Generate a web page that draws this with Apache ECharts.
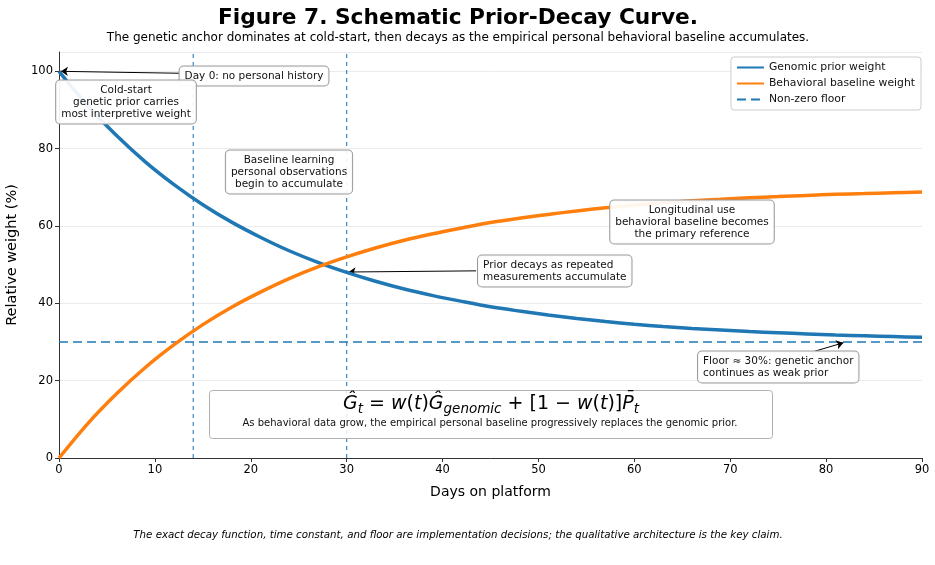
<!DOCTYPE html>
<html><head><meta charset="utf-8">
<script src="https://cdn.jsdelivr.net/npm/echarts@6/dist/echarts.min.js"></script>
<style>html,body{margin:0;padding:0;background:#fff}#c{width:935px;height:565px}</style>
</head><body><div id="c"></div>
<script>
// ---- data ----
const days       = [0,3,6,9,12,15,18,21,24,27,30,33,36,39,42,45,48,51,54,57,60,63,66,69,72,75,78,81,84,87,90];
const genomic    = [100,91.1,83.4,76.6,70.7,65.5,61.0,57.1,53.6,50.6,48.0,45.7,43.7,42.0,40.5,39.1,38.0,37.0,36.1,35.3,34.6,34.0,33.5,33.1,32.7,32.4,32.1,31.8,31.6,31.4,31.2];
const behavioral = [0,8.9,16.6,23.4,29.3,34.5,39.0,42.9,46.4,49.4,52.0,54.3,56.3,58.0,59.5,60.9,62.0,63.0,63.9,64.7,65.4,66.0,66.5,66.9,67.3,67.6,67.9,68.2,68.4,68.6,68.8];
const floorDays  = [0,90];
const floorLevel = [30,30];
const phaseDays  = [14,30];
const phaseSpan  = [0,105];
const seriesNames = ['Genomic prior weight','Behavioral baseline weight','Non-zero floor'];
// arrow annotations: [from (days, %), to (days, %)]
const arrows = [
  [[12.7,99.5],[0.2,100]],
  [[43.5,48.4],[30.2,48.1]],
  [[78.8,27.6],[81.8,29.8]]
];

const F = 'DejaVu Sans';
const pair = (xs, ys) => xs.map((x,i)=>[x, ys[i]]);

const chart = echarts.init(document.getElementById('c'));
const boxStyle = (text, x, y, align) => ({
  type:'text', z:50,
  style:{
    text, x, y, align: align||'center', verticalAlign:'middle',
    font:'10.5px "DejaVu Sans"', fill:'#111', lineHeight:12,
    backgroundColor:'rgba(255,255,255,0.92)', borderColor:'#9a9a9a', borderWidth:1,
    borderRadius:4, padding:[4,5,3,5]
  }
});

const mi = {fontFamily:F, fontSize:19, fontStyle:'italic', lineHeight:24, verticalAlign:'middle', color:'#000'};
const mu = {fontFamily:F, fontSize:19, lineHeight:24, verticalAlign:'middle', color:'#000'};
const ms = {fontFamily:F, fontSize:13.5, fontStyle:'italic', lineHeight:13, verticalAlign:'bottom', color:'#000'};
const phaseColor = '#3b87c0';

const phaseSeries = phaseDays.map((d,i)=>({
  name:'phase'+i, type:'line', data:phaseSpan.map(v=>[d, v]), showSymbol:false, symbol:'none',
  silent:true, z:3, color:phaseColor, itemStyle:{color:phaseColor},
  lineStyle:{color:phaseColor, width:1.2, type:[4,4]}, emphasis:{disabled:true}
}));

chart.setOption({
  animation:false,
  backgroundColor:'#fff',
  title:[
    {text:'Figure 7. Schematic Prior-Decay Curve.', left:453, textAlign:'center', top:2,
     textStyle:{fontFamily:F, fontSize:21.7, fontWeight:'bold', color:'#000'}},
    {text:'The genetic anchor dominates at cold-start, then decays as the empirical personal behavioral baseline accumulates.',
     left:453, textAlign:'center', top:27, textStyle:{fontFamily:F, fontSize:12, fontWeight:'normal', color:'#000'}},
    {text:'The exact decay function, time constant, and floor are implementation decisions; the qualitative architecture is the key claim.',
     left:453, textAlign:'center', top:525, textStyle:{fontFamily:F, fontSize:10.25, fontStyle:'italic', fontWeight:'normal', color:'#000'}}
  ],
  grid:{left:59, right:13, top:52, bottom:107, containLabel:false, outerBoundsMode:'none'},
  legend:{
    data:seriesNames, orient:'vertical', right:14, top:57,
    itemWidth:27, itemHeight:10, itemGap:5,
    padding:[5,6,5,5], borderColor:'#cccccc', borderWidth:1, borderRadius:3,
    backgroundColor:'rgba(255,255,255,0.9)',
    itemStyle:{opacity:0},
    textStyle:{fontFamily:F, fontSize:10.8, color:'#111'}
  },
  xAxis:{
    type:'value', min:0, max:90, interval:10,
    name:'Days on platform', nameLocation:'middle', nameGap:27,
    nameTextStyle:{fontFamily:F, fontSize:14, color:'#000'},
    axisLine:{show:true, lineStyle:{color:'#333', width:1}},
    axisTick:{show:true, length:4, lineStyle:{color:'#333'}},
    axisLabel:{fontFamily:F, fontSize:11.5, color:'#000', margin:6},
    splitLine:{show:false}
  },
  yAxis:{
    type:'value', min:0, max:105, interval:20,
    name:'Relative weight (%)', nameLocation:'middle', nameGap:34,
    nameTextStyle:{fontFamily:F, fontSize:14.5, color:'#000'},
    axisLine:{show:true, lineStyle:{color:'#333', width:1}},
    axisTick:{show:true, length:4, lineStyle:{color:'#333'}},
    axisLabel:{fontFamily:F, fontSize:11.5, color:'#000', margin:6, showMaxLabel:false},
    splitLine:{show:true, lineStyle:{color:'#ebebeb', width:1}}
  },
  series:[
    {name:seriesNames[0], type:'line', data:pair(days, genomic), smooth:0.3, showSymbol:false,
     symbol:'none', lineStyle:{color:'#1f77b4', width:3.5}, itemStyle:{color:'#1f77b4'}, z:5},
    {name:seriesNames[1], type:'line', data:pair(days, behavioral), smooth:0.3, showSymbol:false,
     symbol:'none', lineStyle:{color:'#ff7f0e', width:3.5}, itemStyle:{color:'#ff7f0e'}, z:5},
    {name:seriesNames[2], type:'line', data:pair(floorDays, floorLevel), showSymbol:false,
     symbol:'none', lineStyle:{color:'#1f77b4', width:1.6, type:[9,5]}, itemStyle:{color:'#1f77b4'}, z:4},
    ...phaseSeries,
    {name:'arrows', type:'line', data:[], z:20, color:'#000',
     markLine:{silent:true, symbol:['none','arrow'], symbolSize:7, label:{show:false},
       lineStyle:{color:'#000', width:1, type:'solid'}, itemStyle:{color:'#000'},
       data:arrows.map(a=>[{coord:a[0]},{coord:a[1]}])}}
  ],
  graphic:[
    boxStyle('Day 0: no personal history', 254, 76),
    boxStyle('Cold-start\ngenetic prior carries\nmost interpretive weight', 126, 102),
    boxStyle('Baseline learning\npersonal observations\nbegin to accumulate', 289, 172),
    boxStyle('Longitudinal use\nbehavioral baseline becomes\nthe primary reference', 692, 222),
    boxStyle('Prior decays as repeated\nmeasurements accumulate', 478, 271, 'left'),
    boxStyle('Floor \u2248 30%: genetic anchor\ncontinues as weak prior', 698, 367, 'left'),
    {type:'rect', z:40, shape:{x:209.5, y:390.5, width:563, height:48, r:3},
     style:{fill:'rgba(255,255,255,0.85)', stroke:'#b0b0b0', lineWidth:1}},
    {type:'text', z:41, style:{
      x:491, y:404, align:'center', verticalAlign:'middle',
      text:'{i|\u011C}{s|t}{u| = }{i|w}{u|(}{i|t}{u|)}{i|\u011C}{s|genomic}{u| + [1 \u2212 }{i|w}{u|(}{i|t}{u|)]}{i|P\u0304}{s|t}',
      rich:{i:mi, u:mu, s:ms}
    }},
    {type:'text', z:41, style:{
      x:490, y:423, align:'center', verticalAlign:'middle',
      text:'As behavioral data grow, the empirical personal baseline progressively replaces the genomic prior.',
      font:'10px "DejaVu Sans"', fill:'#111'
    }}
  ]
});
</script>
</body></html>
